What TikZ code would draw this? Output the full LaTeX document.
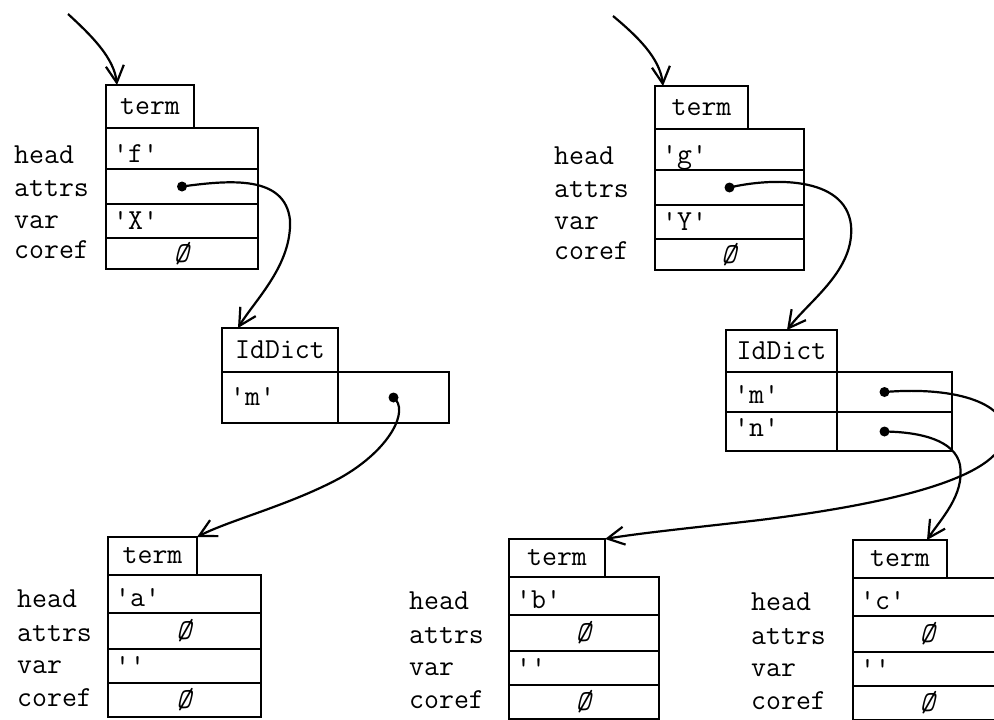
\documentclass[tikz,border=0pt]{standalone}
\usepackage{fontspec}
\usetikzlibrary{arrows.meta}
\tikzset{
  cell/.style={draw, line width=2.5pt, outer sep=0pt, inner sep=0pt, anchor=north west},
  txt/.style={font=\ttfamily\fontsize{29}{32}\selectfont, inner sep=0pt},
  val/.style={txt, anchor=base west},
  lab/.style={txt, anchor=base west},
  nul/.style={txt, anchor=center},
  dot/.style={circle, fill, inner sep=0pt, minimum size=10pt},
  link/.style={line width=2.2pt, -{Straight Barb[length=17pt,width=18pt]}},
}
\newcommand\emptyval{\textit{Ø}}
% #1 name, #2 x, #3 y, #4 tab width, #5 main width, #6 head, #7 attrs, #8 var, #9 coref
\newcommand\termobj[9]{%
  \node[cell, txt, minimum width=#4pt, minimum height=\tabH] (#1tab) at (#2,#3) {term};
  \node[cell, minimum width=#5pt, minimum height=\headH] (#1head) at (#1tab.south west) {};
  \node[cell, minimum width=#5pt, minimum height=\attrH] (#1attrs) at (#1head.south west) {};
  \node[cell, minimum width=#5pt, minimum height=\varH] (#1var) at (#1attrs.south west) {};
  \node[cell, minimum width=#5pt, minimum height=\corefH] (#1coref) at (#1var.south west) {};
  \node[val] (#1headv) at ([xshift=7pt,yshift=7pt]#1head.south west) {#6};
  \node[nul] (#1attrsv) at (#1attrs.center) {#7};
  \node[val] (#1varv) at ([xshift=7pt,yshift=9pt]#1var.south west) {#8};
  \node[nul] (#1corefv) at (#1coref.center) {#9};
  \node[lab] (#1hl) at ([xshift=-\labgap,yshift=6pt]#1head.south west) {head};
  \node[lab] (#1al) at ([xshift=-\labgap,yshift=8pt]#1attrs.south west) {attrs};
  \node[lab] (#1vl) at ([xshift=-\labgap,yshift=10pt]#1var.south west) {var};
  \node[lab] (#1cl) at ([xshift=-\labgap,yshift=11pt]#1coref.south west) {coref};
}
\begin{document}
\begin{tikzpicture}[x=1pt,y=-1pt]
\useasboundingbox (0,0) rectangle (994,720);
\clip (0,0) rectangle (994,720);

% top objects
\def\tabH{43pt}\def\headH{41pt}\def\attrH{35pt}\def\varH{34pt}\def\corefH{31pt}
\def\labgap{92pt}
\termobj{L}{106}{85}{88}{152}{'f'}{}{'X'}{\emptyval}
\def\labgap{101pt}
\termobj{R}{655}{86}{93}{149}{'g'}{}{'Y'}{\emptyval}

% bottom objects
\def\tabH{38pt}\def\headH{38pt}\def\attrH{36pt}\def\varH{34pt}\def\corefH{34pt}
\def\labgap{91pt}
\termobj{BL}{108}{537}{89}{153}{'a'}{\emptyval}{''}{\emptyval}
\def\labgap{100pt}
\termobj{BM}{509}{539}{96}{150}{'b'}{\emptyval}{''}{\emptyval}
\def\labgap{102pt}
\termobj{BR}{853}{540}{94}{150}{'c'}{\emptyval}{''}{\emptyval}

% left IdDict
\node[cell, txt, minimum width=116pt, minimum height=44pt] (idL) at (222,328) {IdDict};
\node[cell, minimum width=116pt, minimum height=51pt] (idLk) at (idL.south west) {};
\node[cell, minimum width=111pt, minimum height=51pt] (idLv) at (idLk.north east) {};
\node[val] (idLkt) at ([xshift=8pt,yshift=18pt]idLk.south west) {'m'};

% right IdDict
\node[cell, txt, minimum width=111pt, minimum height=42pt] (idR) at (726,330) {IdDict};
\node[cell, minimum width=111pt, minimum height=40pt] (idRmk) at (idR.south west) {};
\node[cell, minimum width=115pt, minimum height=40pt] (idRmv) at (idRmk.north east) {};
\node[cell, minimum width=111pt, minimum height=39pt] (idRnk) at (idRmk.south west) {};
\node[cell, minimum width=115pt, minimum height=39pt] (idRnv) at (idRnk.north east) {};
\node[val] (idRmt) at ([xshift=8pt,yshift=9pt]idRmk.south west) {'m'};
\node[val] (idRnt) at ([xshift=8pt,yshift=15pt]idRnk.south west) {'n'};

% dots
\node[dot] (Ldot) at (Lattrs.center) {};
\node[dot] (Rdot) at (Rattrs.center) {};
\node[dot] (idLdot) at (idLv.center) {};
\node[dot] (mdot) at ([xshift=-10pt]idRmv.center) {};
\node[dot] (ndot) at ([xshift=-10pt]idRnv.center) {};

% incoming pointers
\coordinate (inL) at (68,14);
\coordinate (inR) at (613,16);
\draw[link] (inL) .. controls (92,36) and (114,58) .. ([xshift=11pt]Ltab.north west);
\draw[link] (inR) .. controls (637,36) and (660,58) .. ([xshift=8pt]Rtab.north west);

% links
\draw[link] (Ldot.center) .. controls (230,180) and (285,175) .. (290,220)
  .. controls (292,265) and (255,300) .. ([xshift=16pt]idL.north west);
\draw[link] (Rdot.center) .. controls (770,178) and (845,175) .. (851,225)
  .. controls (855,270) and (810,300) .. ([xshift=61pt]idR.north west);
\draw[link] (idLdot.center) .. controls (410,410) and (390,450) .. (340,478)
  .. controls (290,505) and (230,520) .. (BLtab.north east);
\draw[link] (mdot.center) .. controls (960,386) and (1008,405) .. (1005,435)
  .. controls (1000,480) and (880,505) .. (760,520)
  .. controls (700,527) and (640,533) .. (BMtab.north east);
\draw[link] (ndot.center) .. controls (920,432) and (955,440) .. (960,465)
  .. controls (965,495) and (940,520) .. ([xshift=-20pt]BRtab.north east);
\end{tikzpicture}
\end{document}
